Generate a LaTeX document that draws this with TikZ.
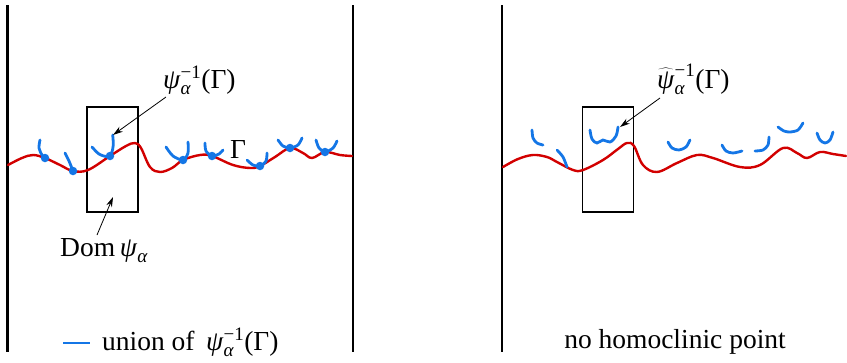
\documentclass[tikz,border=0pt]{standalone}
\usepackage{fontspec}
\setmainfont{Liberation Serif}
\usetikzlibrary{arrows.meta}
\definecolor{curvered}{RGB}{210,0,0}
\definecolor{arcblue}{RGB}{20,118,230}
\newcommand{\tpsi}{\textit{ψ}}
\newcommand{\smallsz}[1]{{\fontsize{19}{20}\selectfont #1}}
\newcommand{\psisub}{\smallsz{\itshape α}}
\newcommand{\psisup}{\smallsz{−1}}
\begin{document}
\begin{tikzpicture}[x=1pt,y=-1pt,
  wallline/.style={line width=2.6pt,black},
  redcurve/.style={line width=2.4pt,curvered,line cap=round},
  preim/.style={line width=2.8pt,arcblue,line cap=round},
  dombox/.style={draw,line width=1.3pt,minimum width=51pt,minimum height=105pt,inner sep=0pt},
  lbl/.style={inner sep=0pt,font=\fontsize{27.5}{32}\selectfont},
  pointer/.style={line width=0.8pt,-{Stealth[length=10pt,width=6pt]}},
  hdot/.style={circle,fill=arcblue,inner sep=0pt,minimum size=8.5pt}]
\useasboundingbox (0,0) rectangle (847,362);
% walls
\coordinate (w1t) at (7.5,5); \coordinate (w1b) at (7.5,352);
\coordinate (w2t) at (353,5); \coordinate (w2b) at (353,352);
\coordinate (w3t) at (502,5); \coordinate (w3b) at (502,352);
\draw[wallline] (w1t) -- (w1b);
\draw[wallline] (w2t) -- (w2b);
\draw[wallline] (w3t) -- (w3b);
% boxes
\node[dombox] (boxL) at (112.5,159.5) {};
\node[dombox] (boxR) at (608,159.5) {};
% red curves
\draw[redcurve] plot[smooth,tension=0.6] coordinates {(8,165) (22,158) (33,155) (45,158) (60,165) (73,171) (88,170) (110,156) (126,146) (135,143) (141,148) (150,167) (160,172) (172,168) (183,160) (200,155) (212,156) (233,165) (250,168) (260,166) (275,157) (290,148) (303,153) (312,158) (325,152) (340,155) (352,156)};
\draw[redcurve] plot[smooth,tension=0.6] coordinates {(503,167) (518,159) (533,155) (547,157) (557,162) (573,170) (583,170) (603,160) (618,149) (627,143) (634,146) (643,165) (657,172) (677,163) (697,155) (713,158) (740,167) (760,165) (783,148) (797,153) (807,158) (820,152) (833,154) (846,156)};
% left preimages
\draw[preim] plot[smooth] coordinates {(40,140) (39,148) (42,155) (45,158)};
\draw[preim] plot[smooth] coordinates {(65,153) (69,161) (73,171)};
\draw[preim] plot[smooth] coordinates {(92,147) (99,154) (107,156.5) (111.5,153) (113.3,145) (112.7,135)};
\draw[preim] plot[smooth] coordinates {(166,147) (173,156) (183,160) (188,153) (188,142)};
\draw[preim] plot[smooth] coordinates {(205,143) (206,151) (212,156) (219,154) (223,150)};
\draw[preim] plot[smooth] coordinates {(247,160) (253,165) (260,166) (266,161) (267,153)};
\draw[preim] plot[smooth] coordinates {(278,140) (283,146) (290,148) (298,145) (302,138)};
\draw[preim] plot[smooth] coordinates {(316,140) (319,148) (325,152) (333,148) (337,141)};
\node[hdot] (d1) at (45,158) {};
\node[hdot] (d2) at (73,171) {};
\node[hdot] (d3) at (110,156) {};
\node[hdot] (d4) at (183,160) {};
\node[hdot] (d5) at (212,156) {};
\node[hdot] (d6) at (260,166) {};
\node[hdot] (d7) at (290,148) {};
\node[hdot] (d8) at (325,152) {};
% right preimages
\draw[preim] plot[smooth] coordinates {(532,130) (533,138) (537,143) (543,145)};
\draw[preim] plot[smooth] coordinates {(557,150) (563,157) (567,167)};
\draw[preim] plot[smooth,tension=0.6] coordinates {(590,130) (592,139) (597,143) (603,140) (610,142) (616,136) (618,127)};
\draw[preim] plot[smooth] coordinates {(668,142) (672,148) (679,150) (686,147) (690,140)};
\draw[preim] plot[smooth] coordinates {(722,145) (726,151) (733,153) (742,151)};
\draw[preim] plot[smooth] coordinates {(755,151) (763,150) (768,145) (769,137)};
\draw[preim] plot[smooth] coordinates {(778,127) (784,131) (790,132) (798,130) (803,123)};
\draw[preim] plot[smooth] coordinates {(817,133) (820,140) (825,143) (830,140) (833,132)};
% labels
\node[lbl,anchor=base west] (psiL) at (163,88) {$\mbox{\tpsi}_{\mbox{\psisub}}^{\mbox{\psisup}}\mbox{(Γ)}$};
\node[lbl,anchor=base west] (psiR) at (657,88) {$\widehat{\mbox{\tpsi}}_{\mbox{\psisub}}^{\mbox{\psisup}}\mbox{(Γ)}$};
\node[lbl,anchor=base west] (gam) at (230,158) {Γ};
\node[lbl,anchor=base west] (dom) at (60,256) {Dom\,$\mbox{\tpsi}_{\mbox{\psisub}}$};
\node[lbl,anchor=base west] (legend) at (102,350) {union of\, $\mbox{\tpsi}_{\mbox{\psisub}}^{\mbox{\psisup}}\mbox{(Γ)}$};
\node[lbl,anchor=base] (nohom) at (675,348) {no homoclinic point};
\coordinate (legA) at (63,343);
\coordinate (legB) at (90,343);
\draw[preim,line cap=butt] (legA) -- (legB);
% arrows
\coordinate (aL1) at (166,97);
\coordinate (aL2) at (113,135);
\draw[pointer] (aL1) -- (aL2);
\coordinate (aD1) at (97,235);
\coordinate (aD2) at (113,197);
\draw[pointer] (aD1) -- (aD2);
\coordinate (aR1) at (660,98);
\coordinate (aR2) at (620,127);
\draw[pointer] (aR1) -- (aR2);
\end{tikzpicture}
\end{document}
